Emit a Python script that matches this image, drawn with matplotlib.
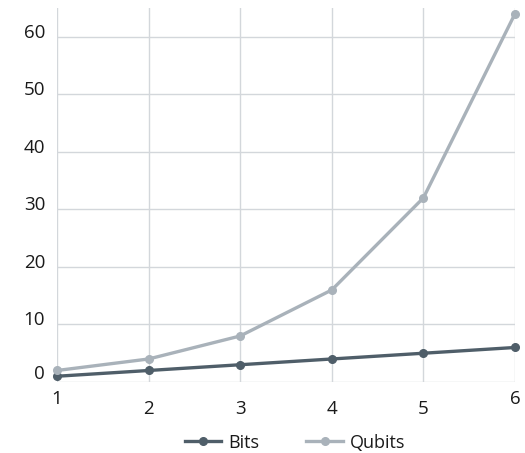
import matplotlib.pyplot as plt
import matplotlib.transforms as mtransforms

plt.rcParams['font.family'] = ['Open Sans', 'DejaVu Sans']

x = [1, 2, 3, 4, 5, 6]
bits = [1, 2, 3, 4, 5, 6]
qubits = [2, 4, 8, 16, 32, 64]
yticks = [0, 10, 20, 30, 40, 50, 60]

bits_color = "#4f5e69"
qubits_color = "#a9b2ba"
grid_color = "#d3d7db"

fig = plt.figure(figsize=(5.25, 4.53), dpi=100)
ax = fig.add_axes([57 / 525, 71 / 453, 458 / 525, 374 / 453])

ax.plot(x, bits, color=bits_color, lw=2.4, marker="o", ms=5.5, label="Bits", clip_on=False, zorder=3)
ax.plot(x, qubits, color=qubits_color, lw=2.4, marker="o", ms=5.5, label="Qubits", clip_on=False, zorder=3)

ax.set_xlim(1, 6)
ax.set_ylim(0, 65)
ax.set_xticks(x)
ax.set_yticks(yticks)
ax.grid(True, color=grid_color, lw=1)
ax.set_axisbelow(True)
for s in ax.spines.values():
    s.set_visible(False)
ax.tick_params(length=0, labelsize=13.5, colors="#1a1a1a", pad=8.5)
ax.tick_params(axis="x", pad=13)

# edge x labels sit a little higher
ticks = ax.xaxis.get_major_ticks()
ticks[0].set_pad(6)
ticks[-1].set_pad(6)

# y labels raised slightly above their gridlines, the zero a bit more
for i, lab in enumerate(ax.get_yticklabels()):
    dy = 10 if i == 0 else 6
    off = mtransforms.ScaledTranslation(0, dy / 100, fig.dpi_scale_trans)
    lab.set_transform(lab.get_transform() + off)

ax.legend(loc="upper center", bbox_to_anchor=(0.52, -0.095), ncol=2, frameon=False,
          fontsize=13, handlelength=2.0, columnspacing=2.6, handletextpad=0.4,
          labelcolor="#1a1a1a")

fig.savefig("out.png", dpi=100)
